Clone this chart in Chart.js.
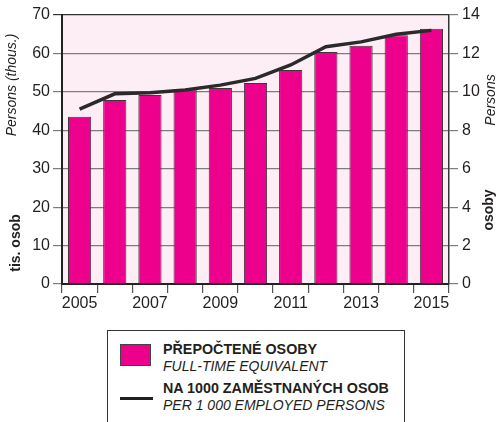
<!DOCTYPE html>
<html>
<head>
<meta charset="utf-8">
<script src="https://cdn.jsdelivr.net/npm/chart.js@4.4.0/dist/chart.umd.min.js"></script>
<style>
  body { margin: 0; background: #fff; font-family: "Liberation Sans", Arial, sans-serif; }
  .wrap { position: relative; width: 499px; height: 422px; overflow: hidden; }
  .chart-box { position: absolute; left: 0; top: 0; width: 499px; height: 320px; }
  .legend { position: absolute; left: 107px; top: 330px; width: 298px; height: 110px;
            border: 1.5px solid #333; box-sizing: border-box; color: #231f20; }
  .item { position: absolute; left: 55px; line-height: 16.5px; white-space: nowrap; }
  .item b { font-size: 14.3px; display: block; }
  .item i { font-size: 14px; display: block; }
  .swatch { position: absolute; left: 12px; top: 13px; width: 31px; height: 22px;
            background: #ec008c; border: 1px solid #444; box-sizing: border-box; }
  .dash { position: absolute; left: 12px; top: 66px; width: 33px; height: 3px; background: #231f20; }
</style>
</head>
<body>
<div class="wrap">
  <div class="chart-box"><canvas id="myChart"></canvas></div>
  <div class="legend">
    <div class="swatch"></div>
    <div class="item" style="top:10px"><b>PŘEPOČTENÉ OSOBY</b><i>FULL-TIME EQUIVALENT</i></div>
    <div class="dash"></div>
    <div class="item" style="top:49px"><b>NA 1000 ZAMĚSTNANÝCH OSOB</b><i>PER 1 000 EMPLOYED PERSONS</i></div>
  </div>
</div>
<script>
const years = ['2005', '2006', '2007', '2008', '2009', '2010', '2011', '2012', '2013', '2014', '2015'];
const fteThous = [43.5, 47.9, 49.2, 50.7, 51.0, 52.3, 55.7, 60.4, 62.0, 64.7, 66.4];
const perThousand = [9.1, 9.9, 9.95, 10.1, 10.35, 10.7, 11.4, 12.35, 12.6, 13.0, 13.2];
const leftTicks = [0, 10, 20, 30, 40, 50, 60, 70];
const rightTicks = [0, 2, 4, 6, 8, 10, 12, 14];

const textColor = '#231f20';
const tickFont = { family: 'Liberation Sans', size: 16 };

// pink plot background
const plotBg = {
    id: 'plotBg',
    beforeDraw(chart) {
        const a = chart.chartArea;
        const c = chart.ctx;
        c.save();
        c.fillStyle = '#fdeef5';
        c.fillRect(a.left, a.top, a.right - a.left, a.bottom - a.top);
        c.restore();
    }
};

// two-style rotated axis titles
const axisTitles = {
    id: 'axisTitles',
    afterDraw(chart) {
        const c = chart.ctx;
        function vtext(txt, x, y, font) {
            c.save();
            c.translate(x, y);
            c.rotate(-Math.PI / 2);
            c.font = font;
            c.fillStyle = textColor;
            c.textAlign = 'center';
            c.textBaseline = 'middle';
            c.fillText(txt, 0, 0);
            c.restore();
        }
        vtext('tis. osob', 16, 243, 'bold 14px "Liberation Sans"');
        vtext('Persons (thous.)', 12, 85, 'italic 14px "Liberation Sans"');
        vtext('osoby', 489, 210, 'bold 14px "Liberation Sans"');
        vtext('Persons', 491, 100, 'italic 14px "Liberation Sans"');
    }
};

const ctx = document.getElementById('myChart').getContext('2d');
const myChart = new Chart(ctx, {
    type: 'bar',
    data: {
        labels: years,
        datasets: [{
            type: 'line',
            data: perThousand,
            yAxisID: 'y2',
            borderColor: '#2a2a2a',
            borderWidth: 3.5,
            pointRadius: 0,
            tension: 0,
            order: 0
        }, {
            type: 'bar',
            data: fteThous,
            yAxisID: 'y',
            backgroundColor: '#ec008c',
            borderColor: '#3a3a3a',
            borderWidth: 1,
            categoryPercentage: 1,
            barPercentage: 0.66,
            order: 1
        }]
    },
    plugins: [plotBg, axisTitles],
    options: {
        responsive: true,
        maintainAspectRatio: false,
        animation: false,
        layout: { padding: { top: 15, left: 0, right: 0, bottom: 0 } },
        scales: {
            x: {
                offset: true,
                grid: { offset: true, drawOnChartArea: false, drawTicks: true, tickLength: 9, color: '#555', lineWidth: 1.2 },
                border: { display: true, color: '#222', width: 2 },
                ticks: {
                    autoSkip: false, maxRotation: 0, color: textColor, font: tickFont, padding: 1,
                    callback: function(val, i) { return i % 2 === 0 ? years[i] : ''; }
                },
                afterFit: function(s) { s.height = 36; }
            },
            y: {
                position: 'left',
                min: 0, max: 70,
                afterBuildTicks: function(s) { s.ticks = leftTicks.map(v => ({ value: v })); },
                grid: {
                    color: (c) => c.tick && c.tick.value === 70 ? '#333' : '#7d7d7d',
                    lineWidth: 1.2, tickLength: 9, drawTicks: true
                },
                border: { display: true, color: '#222', width: 2 },
                ticks: { color: textColor, font: tickFont, padding: 3 },
                afterFit: function(s) { s.width = 62; }
            },
            y2: {
                position: 'right',
                min: 0, max: 14,
                afterBuildTicks: function(s) { s.ticks = rightTicks.map(v => ({ value: v })); },
                grid: { drawOnChartArea: false, drawTicks: true, tickLength: 9, color: '#7d7d7d', lineWidth: 1.2 },
                border: { display: true, color: '#333', width: 1.5 },
                ticks: { color: textColor, font: tickFont, padding: 4 },
                afterFit: function(s) { s.width = 50; }
            }
        },
        plugins: {
            legend: { display: false },
            tooltip: { enabled: false }
        }
    }
});
</script>
</body>
</html>
